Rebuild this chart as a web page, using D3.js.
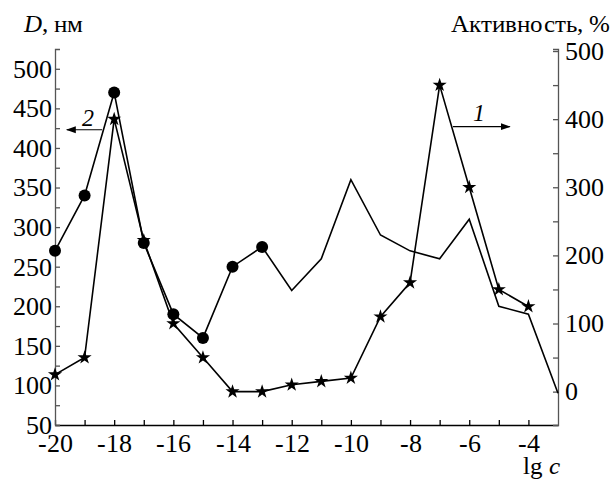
<!DOCTYPE html>
<html>
<head>
<meta charset="UTF-8">
<script src="https://cdn.jsdelivr.net/npm/d3@7"></script>
<style>
  @font-face { font-family: "ChartSerif"; src: local("Liberation Serif"), local("LiberationSerif"); font-style: normal; }
  @font-face { font-family: "ChartSerif"; src: local("Liberation Serif Italic"), local("LiberationSerif-Italic"); font-style: italic; }
  body { margin: 0; background: #fff; }
  svg { display: block; }
  svg text { font-family: ChartSerif, "Liberation Serif", Tinos, serif !important; }
  .yax path, .yax line { stroke: #555; stroke-width: 1.3; }
  .xax path, .xax line { stroke: #000; stroke-width: 1.3; }
  .series { fill: none; stroke: #000; stroke-width: 1.6; }
</style>
</head>
<body>
<script>
    // lg c values
    const lgC = [-20, -19, -18, -17, -16, -15, -14, -13, -12, -11, -10, -9, -8, -7, -6, -5, -4, -3];
    // curve 2: D, nm (left axis); circles drawn only for the first 8 points
    const sizeD = [270, 340, 470, 280, 190, 160, 250, 275, 220, 260, 360, 290, 270, 260, 310, 200, 190, 90];
    const circleCount = 8;
    // curve 1: activity, % (right axis)
    const actX = [-20, -19, -18, -17, -16, -15, -14, -13, -12, -11, -10, -9, -8, -7, -6, -5, -4];
    const activity = [25, 50, 400, 222, 100, 50, 0, 0, 10, 15, 20, 110, 160, 450, 300, 150, 125];

    const xTicks = d3.range(-20, -3, 1);
    const leftTicks = d3.range(50, 501, 25);
    const rightTicks = d3.range(0, 501, 50);

    const FONT = "'Liberation Serif', monospace";
    const width = 612, height = 479;
    const m = { left: 55, right: 558, top: 49, bottom: 425 };

    const svg = d3.select("body").append("svg")
      .attr("width", width)
      .attr("height", height);

    const x = d3.scaleLinear().domain([-20, -3]).range([m.left, m.right]);
    const yL = d3.scaleLinear().domain([50, 525]).range([m.bottom, m.top]);
    const yR = d3.scaleLinear().domain([-49, 503]).range([m.bottom, m.top]);

    // axes
    svg.append("g")
      .attr("class", "xax")
      .attr("transform", `translate(0,${m.bottom})`)
      .call(d3.axisBottom(x).tickValues(xTicks).tickSizeInner(-5).tickSizeOuter(0).tickPadding(8)
        .tickFormat(d => d % 2 === 0 ? d : ""))
      .call(g => g.selectAll("text").attr("dy", "0.72em"));

    svg.append("g")
      .attr("class", "yax")
      .attr("transform", `translate(${m.left},0)`)
      .call(d3.axisLeft(yL).tickValues(leftTicks).tickSizeInner(-5).tickSizeOuter(-5).tickPadding(3)
        .tickFormat(d => d % 50 === 0 ? d : ""));

    svg.append("g")
      .attr("class", "yax")
      .attr("transform", `translate(${m.right},0)`)
      .call(d3.axisRight(yR).tickValues(rightTicks).tickSizeInner(-5).tickSizeOuter(-5).tickPadding(7)
        .tickFormat(d => d % 100 === 0 ? d : ""));

    svg.selectAll("g.xax, g.yax").attr("font-family", FONT).attr("font-size", 26);
    svg.selectAll(".tick text").attr("fill", "#000");

    // curve 2 (D)
    const lineD = d3.line().x((d, i) => x(lgC[i])).y(d => yL(d));
    svg.append("path").attr("class", "series").attr("d", lineD(sizeD));

    svg.selectAll(".dot")
      .data(sizeD.slice(0, circleCount))
      .enter().append("circle")
      .attr("class", "dot")
      .attr("cx", (d, i) => x(lgC[i]))
      .attr("cy", d => yL(d))
      .attr("r", 6)
      .attr("fill", "#000");

    // curve 1 (activity)
    const lineA = d3.line().x((d, i) => x(actX[i])).y(d => yR(d));
    svg.append("path").attr("class", "series").attr("d", lineA(activity));

    const star = d3.symbol().type(d3.symbolStar).size(62);
    svg.selectAll(".star")
      .data(activity)
      .enter().append("path")
      .attr("class", "star")
      .attr("d", star)
      .attr("transform", (d, i) => `translate(${x(actX[i])},${yR(d)})`)
      .attr("fill", "#000");

    // arrow marker
    svg.append("defs").append("marker")
      .attr("id", "arr")
      .attr("viewBox", "0 0 10 10")
      .attr("refX", 9).attr("refY", 5)
      .attr("markerWidth", 10).attr("markerHeight", 10)
      .attr("markerUnits", "userSpaceOnUse")
      .attr("orient", "auto")
      .append("path").attr("d", "M0,1.5L10,5L0,8.5Z").attr("fill", "#000");

    // curve labels with arrows pointing to their axis
    svg.append("line")
      .attr("x1", x(-18.41)).attr("x2", x(-19.6))
      .attr("y1", yL(423)).attr("y2", yL(423))
      .attr("stroke", "#000").attr("stroke-width", 1.2)
      .attr("marker-end", "url(#arr)");
    svg.append("text")
      .attr("x", x(-18.88)).attr("y", yL(428))
      .attr("text-anchor", "middle")
      .attr("font-family", FONT).attr("font-size", 24).attr("font-style", "italic")
      .text("2");

    svg.append("line")
      .attr("x1", x(-6.55)).attr("x2", x(-4.63))
      .attr("y1", yR(389)).attr("y2", yR(389))
      .attr("stroke", "#000").attr("stroke-width", 1.2)
      .attr("marker-end", "url(#arr)");
    svg.append("text")
      .attr("x", x(-5.67)).attr("y", yR(397))
      .attr("text-anchor", "middle")
      .attr("font-family", FONT).attr("font-size", 24).attr("font-style", "italic")
      .text("1");

    // axis titles
    const dTitle = svg.append("text")
      .attr("x", 24).attr("y", 32)
      .attr("font-family", FONT).attr("font-size", 25);
    dTitle.append("tspan").attr("font-style", "italic").text("D");
    dTitle.append("tspan").text(", нм");

    svg.append("text")
      .attr("x", 610).attr("y", 32)
      .attr("text-anchor", "end")
      .attr("font-family", FONT).attr("font-size", 25)
      .text("Активность, %");

    const xTitle = svg.append("text")
      .attr("x", 523).attr("y", 474)
      .attr("font-family", FONT).attr("font-size", 25);
    xTitle.append("tspan").text("lg ");
    xTitle.append("tspan").attr("font-style", "italic").text("c");
</script>
</body>
</html>
